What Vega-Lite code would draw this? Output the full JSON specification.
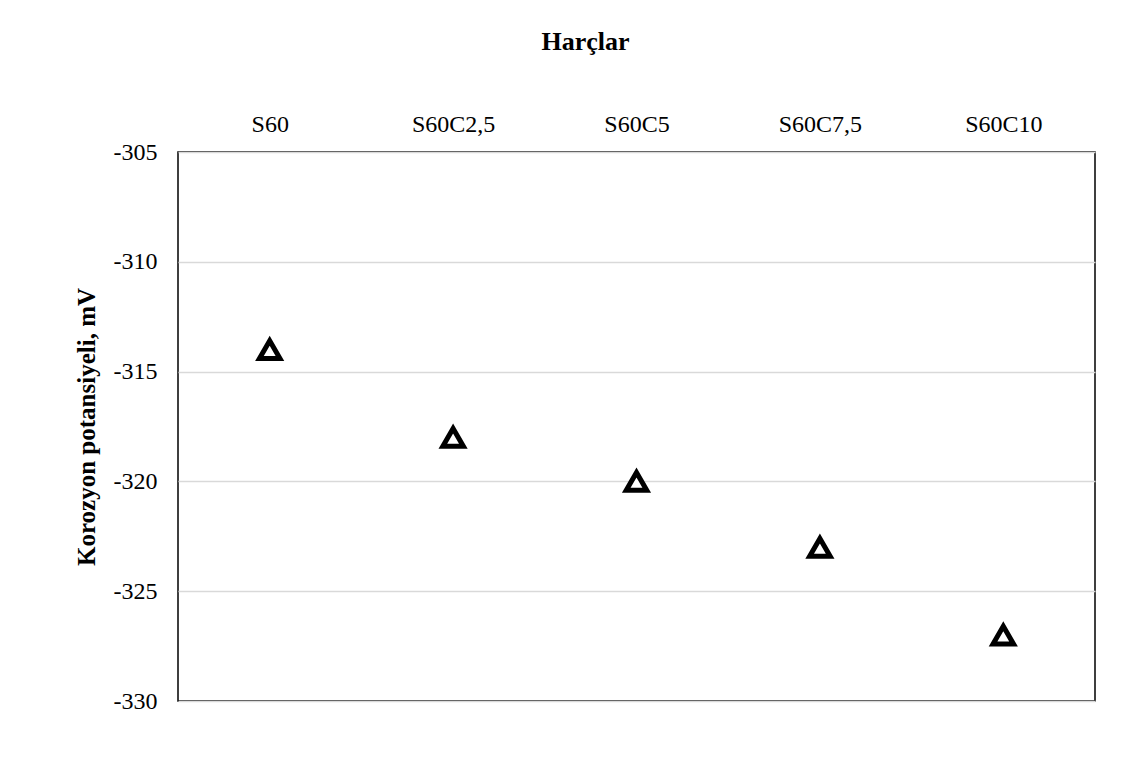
{
  "$schema": "https://vega.github.io/schema/vega-lite/v6.json",
  "autosize": {"type": "none"},
  "width": 917,
  "height": 549,
  "padding": {"left": 178, "top": 152, "right": 48, "bottom": 57},
  "background": "white",
  "config": {
    "view": {"stroke": "black", "strokeWidth": 1.5},
    "font": "Liberation Serif"
  },
  "data": {
    "values": [
      {"harc": "S60", "potansiyel": -314},
      {"harc": "S60C2,5", "potansiyel": -318},
      {"harc": "S60C5", "potansiyel": -320},
      {"harc": "S60C7,5", "potansiyel": -323},
      {"harc": "S60C10", "potansiyel": -327}
    ]
  },
  "mark": {"type": "point", "shape": "triangle-up", "filled": true, "fill": "white", "stroke": "black", "strokeWidth": 5, "size": 420, "opacity": 1},
  "encoding": {
    "x": {
      "field": "harc", "type": "nominal", "sort": null,
      "scale": {"type": "point", "padding": 0.5},
      "axis": {"orient": "top", "title": "Harçlar", "labelAngle": 0, "labelFont": "Liberation Serif", "titleFont": "Liberation Serif", "labelColor": "black", "titleColor": "black", "labelFontSize": 24, "titleFontSize": 26, "titleFontWeight": "bold", "ticks": false, "domain": false, "grid": false, "labelPadding": 16, "titlePadding": 58, "titleX": 407}
    },
    "y": {
      "field": "potansiyel", "type": "quantitative",
      "scale": {"domain": [-330, -305], "nice": false, "zero": false},
      "axis": {"title": "Korozyon potansiyeli, mV", "values": [-330, -325, -320, -315, -310, -305], "labelExpr": "replace(datum.label, '\u2212', '-')", "labelFont": "Liberation Serif", "titleFont": "Liberation Serif", "labelColor": "black", "titleColor": "black", "labelFontSize": 24, "titleFontSize": 25, "titleFontWeight": "bold", "ticks": false, "domain": false, "grid": true, "gridColor": "#d9d9d9", "gridWidth": 1.5, "labelPadding": 21, "titlePadding": 14}
    }
  }
}
